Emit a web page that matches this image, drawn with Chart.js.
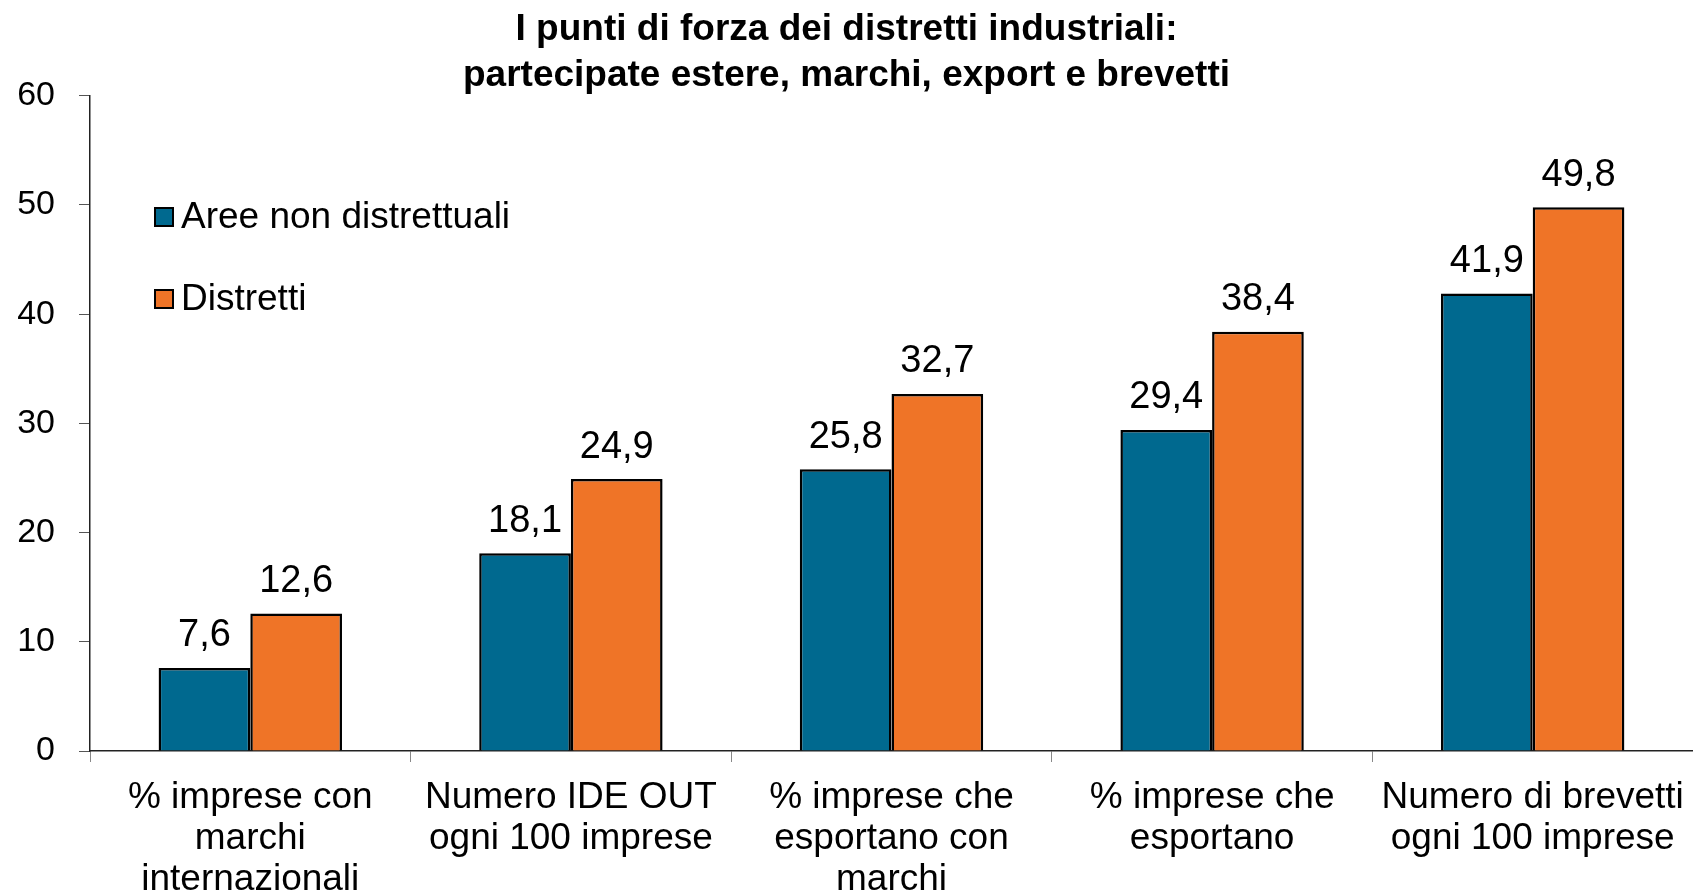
<!DOCTYPE html>
<html>
<head>
<meta charset="utf-8">
<script src="https://cdn.jsdelivr.net/npm/chart.js"></script>
<style>
    html, body { margin: 0; padding: 0; background: #ffffff; }
    #wrap { width: 1693px; height: 893px; }
</style>
</head>
<body>
<div id="wrap"><canvas id="districtChart" width="1693" height="893"></canvas></div>
<script>
const categories = [
    ['% imprese con', 'marchi', 'internazionali'],
    ['Numero IDE OUT', 'ogni 100 imprese'],
    ['% imprese che', 'esportano con', 'marchi'],
    ['% imprese che', 'esportano'],
    ['Numero di brevetti', 'ogni 100 imprese']
];
const nonDistrictValues = [7.6, 18.1, 25.8, 29.4, 41.9];
const districtValues = [12.6, 24.9, 32.7, 38.4, 49.8];
const seriesNames = ['Aree non distrettuali', 'Distretti'];
const yTicks = [0, 10, 20, 30, 40, 50, 60];

const FONT = '"Liberation Sans", Arial, Helvetica, sans-serif';
const BLUE = '#00698f';
const ORANGE = '#ef7427';

function formatValue(v) {
    return v.toFixed(1).replace('.', ',');
}

// value labels above each bar
const valueLabels = {
    id: 'valueLabels',
    afterDatasetsDraw(chart) {
        const ctx = chart.ctx;
        ctx.save();
        ctx.font = '38px ' + FONT;
        ctx.fillStyle = '#000';
        ctx.textAlign = 'center';
        ctx.textBaseline = 'middle';
        chart.data.datasets.forEach((ds, di) => {
            chart.getDatasetMeta(di).data.forEach((bar, i) => {
                ctx.fillText(formatValue(ds.data[i]), bar.x, bar.y - 32);
            });
        });
        ctx.restore();
    }
};

// legend drawn inside the plot area, top left
const insideLegend = {
    id: 'insideLegend',
    afterDraw(chart) {
        const ctx = chart.ctx;
        ctx.save();
        ctx.font = '37px ' + FONT;
        ctx.textBaseline = 'middle';
        chart.data.datasets.forEach((ds, i) => {
            const cy = 217 + i * 82;
            ctx.fillStyle = ds.backgroundColor;
            ctx.fillRect(155, cy - 9, 18, 18);
            ctx.lineWidth = 2;
            ctx.strokeStyle = '#000';
            ctx.strokeRect(155, cy - 9, 18, 18);
            ctx.fillStyle = '#000';
            ctx.fillText(ds.label, 181, cy + 1);
        });
        ctx.restore();
    }
};

const ctx = document.getElementById('districtChart').getContext('2d');
new Chart(ctx, {
    type: 'bar',
    data: {
        labels: categories,
        datasets: [{
            label: seriesNames[0],
            data: nonDistrictValues,
            backgroundColor: BLUE,
            borderColor: '#000',
            borderWidth: 2.5
        }, {
            label: seriesNames[1],
            data: districtValues,
            backgroundColor: ORANGE,
            borderColor: '#000',
            borderWidth: 2.5
        }]
    },
    options: {
        responsive: false,
        animation: false,
        layout: { padding: { left: 0, right: 0, bottom: 0 } },
        datasets: {
            bar: { categoryPercentage: 0.572, barPercentage: 1.0 }
        },
        plugins: {
            legend: { display: false },
            tooltip: { enabled: false },
            title: {
                display: true,
                text: ['I punti di forza dei distretti industriali:', 'partecipate estere, marchi, export e brevetti'],
                color: '#000',
                font: { family: FONT, size: 37, weight: 'bold', lineHeight: 1.24 },
                padding: { top: 7, bottom: -3 }
            }
        },
        scales: {
            x: {
                afterFit(axis) {
                    axis.height = 142;
                    axis.paddingLeft = 0;
                    axis.paddingRight = 0;
                },
                grid: {
                    offset: true,
                    drawOnChartArea: false,
                    drawTicks: true,
                    tickLength: 11,
                    color: '#888'
                },
                border: { display: true, color: '#222', width: 1.5 },
                ticks: {
                    color: '#000',
                    padding: 15,
                    maxRotation: 0,
                    autoSkip: false,
                    font: { family: FONT, size: 37, lineHeight: 1.11 }
                }
            },
            y: {
                min: 0,
                max: 60,
                afterBuildTicks(axis) {
                    axis.ticks = yTicks.map(v => ({ value: v }));
                },
                afterFit(axis) {
                    axis.width = 90;
                },
                grid: {
                    drawOnChartArea: false,
                    drawTicks: true,
                    tickLength: 11,
                    color: '#555'
                },
                border: { display: true, color: '#222', width: 1.5 },
                ticks: {
                    color: '#000',
                    padding: 24,
                    font: { family: FONT, size: 34 }
                }
            }
        }
    },
    plugins: [valueLabels, insideLegend]
});
</script>
</body>
</html>
